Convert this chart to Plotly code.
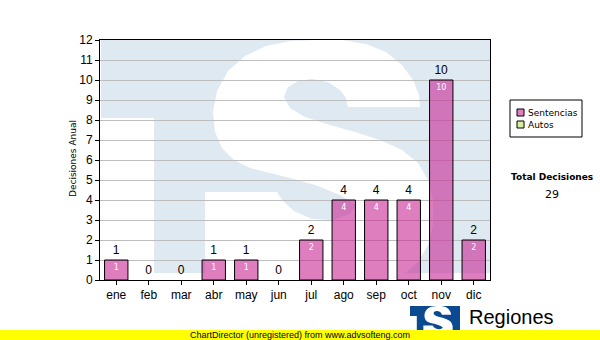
import plotly.graph_objects as go

# ---------------- data ----------------
months = ["ene", "feb", "mar", "abr", "may", "jun", "jul", "ago", "sep", "oct", "nov", "dic"]
sentencias = [1, 0, 0, 1, 1, 0, 2, 4, 4, 4, 10, 2]
autos = [0, 0, 0, 0, 0, 0, 0, 0, 0, 0, 0, 0]
series_names = ["Sentencias", "Autos"]
total_label = "Total Decisiones"
y_title = "Decisiones Anual"
footer = "ChartDirector (unregistered) from www.advsofteng.com"
logo_text = "Regiones"

# ---------------- geometry helpers (decoration only) ----------------
W, H = 600, 340
L, R, T, B = 100, 110, 40, 60
PW = W - L - R
PH = H - T - B


def to_paper(px, py):
    return (px - L) / PW, (T + PH - py) / PH


def make_path(points, tf=None):
    s = ""
    for i, (px, py) in enumerate(points):
        if tf:
            px, py = tf(px, py)
        x, y = to_paper(px, py)
        s += ("M" if i == 0 else "L") + f"{x:.4f},{y:.4f} "
    return s + "Z"


def rect(px0, py0, px1, py1, fill, line=None, layer="above"):
    x0, y0 = to_paper(px0, py0)
    x1, y1 = to_paper(px1, py1)
    d = dict(type="rect", xref="paper", yref="paper", x0=x0, y0=y0, x1=x1, y1=y1,
             fillcolor=fill, layer=layer, line=dict(width=0))
    if line:
        d["line"] = dict(color=line, width=1)
    return d


t_shape = [(101, 40), (490, 40), (490, 273), (154, 273), (154, 118), (101, 118)]
s_shape = [
    (348, 107), (420, 107), (419, 95), (413, 80), (402, 65), (386, 52), (366, 44),
    (342, 40), (316, 40), (290, 41), (266, 46), (245, 56), (228, 71), (217, 91),
    (213, 112), (215, 132), (222, 148), (234, 160), (250, 168), (270, 173),
    (290, 178), (315, 185), (340, 195), (356, 205), (350, 214), (333, 220),
    (312, 219), (294, 211), (282, 200), (277, 192), (205, 192), (205, 273),
    (405, 273), (418, 262), (428, 245), (433, 225), (433, 200), (428, 180),
    (418, 163), (402, 150), (380, 140), (355, 132), (330, 125), (305, 117),
    (290, 108), (284, 97), (288, 87), (298, 81), (312, 79), (328, 82),
    (340, 90), (346, 98),
]


def logo_tf(px, py):
    return 410 + (px - 101) * 50 / 389, 306 + (py - 40) * 30 / 233


bar_color = "rgba(200,40,148,0.6)"
bar_legend_color = "rgb(223,128,192)"
autos_color = "#d9eea0"

shapes = [
    dict(type="path", xref="paper", yref="paper", layer="below",
         path=make_path(t_shape), fillcolor="#dfe9f2", line=dict(width=0)),
    dict(type="path", xref="paper", yref="paper", layer="below",
         path=make_path(s_shape), fillcolor="#ffffff", line=dict(width=0)),
    dict(type="path", xref="paper", yref="paper", layer="above",
         path=make_path(t_shape, logo_tf), fillcolor="#0b4a90", line=dict(width=0)),
    dict(type="path", xref="paper", yref="paper", layer="above",
         path=make_path(s_shape, logo_tf), fillcolor="#ffffff", line=dict(width=0)),
    rect(0, 330, 600, 340, "#ffff00"),
    # legend box
    rect(510, 100, 582, 137, "white", line="black"),
    rect(517, 109, 524, 116, bar_legend_color, line="black"),
    rect(517, 121, 524, 128, autos_color, line="black"),
]

zero_line = ["black" if v > 0 else "rgba(0,0,0,0)" for v in sentencias]

fig = go.Figure()
fig.add_trace(go.Bar(
    x=months, y=sentencias, name=series_names[0],
    marker=dict(color=bar_color, line=dict(color=zero_line, width=1)),
    text=[str(v) for v in sentencias], textposition="outside",
    textfont=dict(family="Liberation Sans", size=12, color="black"),
    cliponaxis=False, width=0.72,
))
fig.add_trace(go.Bar(
    x=months, y=sentencias, showlegend=False, hoverinfo="skip",
    marker=dict(color="rgba(0,0,0,0)", line=dict(width=0)),
    text=[str(v) if v > 0 else "" for v in sentencias], textposition="inside",
    insidetextanchor="end", textangle=0,
    textfont=dict(family="DejaVu Sans", size=8, color="white"),
    width=0.72,
))
fig.add_trace(go.Bar(
    x=months, y=autos, name=series_names[1],
    marker=dict(color=autos_color, line=dict(color="rgba(0,0,0,0)", width=0)),
    width=0.72,
))


def ann(text, px, py, size, family="DejaVu Sans", xanchor="center", angle=0):
    x, _ = to_paper(px, 0)
    _, y = to_paper(0, py)
    return dict(text=text, xref="paper", yref="paper", x=x, y=y, textangle=angle,
                showarrow=False, xanchor=xanchor, yanchor="middle", borderpad=0,
                font=dict(family=family, size=size, color="black"))


annotations = [
    ann(y_title, 73, 159, 9, angle=-90),
    ann("<b>" + total_label + "</b>", 552, 177, 9),
    ann(str(sum(sentencias) + sum(autos)), 552, 195, 11),
    ann(footer, 300, 335, 9, family="Liberation Sans"),
    ann(logo_text, 468, 317, 20, family="Liberation Sans", xanchor="left"),
    ann(series_names[0], 527, 113, 9, xanchor="left"),
    ann(series_names[1], 527, 125, 9, xanchor="left"),
]

fig.update_layout(
    width=W, height=H, margin=dict(l=L, r=R, t=T, b=B, pad=0, autoexpand=False),
    paper_bgcolor="white", plot_bgcolor="rgba(0,0,0,0)",
    barmode="overlay",
    font=dict(family="Liberation Sans", size=12, color="black"),
    showlegend=False,
    shapes=shapes,
    annotations=annotations,
    xaxis=dict(showline=True, linecolor="black", linewidth=1, mirror=True,
               ticks="outside", ticklen=4, tickcolor="black", showgrid=False,
               tickfont=dict(family="Liberation Sans", size=12)),
    yaxis=dict(range=[0, 12], dtick=1, showline=True, linecolor="black", linewidth=1,
               mirror=True, ticks="outside", ticklen=4, tickcolor="black",
               showgrid=True, gridcolor="#bdbdbd", gridwidth=1, zeroline=False,
               tickfont=dict(family="Liberation Sans", size=12)),
)

fig.write_html("out.html")
